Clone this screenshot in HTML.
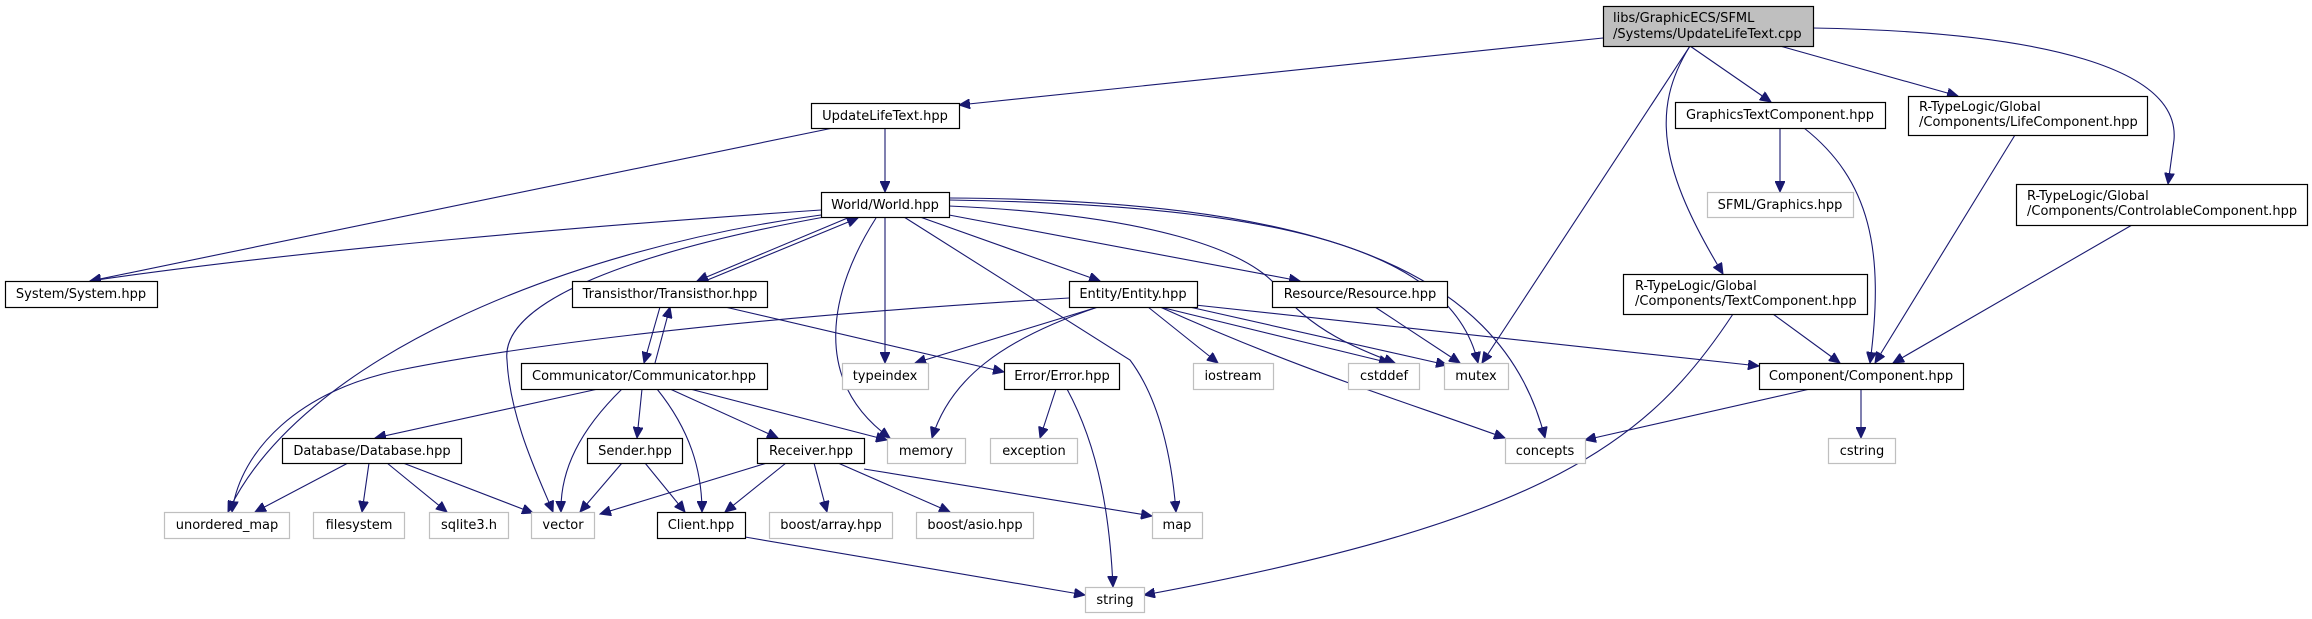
<!DOCTYPE html>
<html><head><meta charset="utf-8"><style>
html,body{margin:0;padding:0;background:#fff;}
svg{display:block;}
text{font-family:"DejaVu Sans","Liberation Sans",sans-serif;font-size:13px;fill:#000;}
.e{fill:none;stroke:#191970;stroke-width:1.1;marker-end:url(#a);}
.n{fill:#fff;stroke:#000;stroke-width:1.2;}
.g{fill:#fff;stroke:#bfbfbf;stroke-width:1.2;}
</style></head><body>
<svg width="2312" height="619" viewBox="0 0 2312 619" xmlns="http://www.w3.org/2000/svg">
<defs><marker id="a" markerUnits="userSpaceOnUse" markerWidth="12" markerHeight="10" refX="11" refY="5" orient="auto"><path d="M0,0 L11,5 L0,10 Z" fill="#191970" stroke="#191970"/></marker></defs>
<g>
<path class="e" d="M1603,38 L959,105"/>
<path class="e" d="M1690,46 L1771,102"/>
<path class="e" d="M1780,46 L1958,96"/>
<path class="e" d="M1813,28 C2050,32 2180,70 2174,140 L2168,184"/>
<path class="e" d="M1690,46 L1482,363"/>
<path class="e" d="M1690,46 C1650,110 1660,170 1723,274"/>
<path class="e" d="M885,128 L885,192"/>
<path class="e" d="M833,128 L90,281"/>
<path class="e" d="M821,210 C600,225 300,250 90,281"/>
<path class="e" d="M850,217 L697,281"/>
<path class="e" d="M705,281 L858,218"/>
<path class="e" d="M821,215 C560,250 300,360 228,512"/>
<path class="e" d="M830,216 C640,250 500,300 507,360 C510,420 540,480 553,512"/>
<path class="e" d="M885,217 L885,363"/>
<path class="e" d="M876,218 C830,290 810,380 890,438"/>
<path class="e" d="M904,217 L1130,360 C1160,400 1172,460 1176,512"/>
<path class="e" d="M920,217 L1100,281"/>
<path class="e" d="M949,215 L1300,281"/>
<path class="e" d="M949,206 C1150,215 1250,250 1280,290 C1310,330 1360,350 1395,363"/>
<path class="e" d="M949,200 C1250,205 1450,240 1478,363"/>
<path class="e" d="M949,198 C1300,200 1500,260 1545,438"/>
<path class="e" d="M660,307 L644,363"/>
<path class="e" d="M655,363 L670,307"/>
<path class="e" d="M725,307 L1004,372"/>
<path class="e" d="M1069,298 C700,320 500,350 400,370 C300,390 240,450 232,512"/>
<path class="e" d="M1098,307 L915,363"/>
<path class="e" d="M1098,307 C1000,340 950,380 932,438"/>
<path class="e" d="M1148,307 L1218,363"/>
<path class="e" d="M1160,307 L1390,363"/>
<path class="e" d="M1185,306 L1447,365"/>
<path class="e" d="M1195,305 L1759,366"/>
<path class="e" d="M1160,307 C1300,370 1400,400 1505,438"/>
<path class="e" d="M1375,307 L1460,363"/>
<path class="e" d="M1056,389 L1040,438"/>
<path class="e" d="M1067,389 C1100,450 1110,520 1113,587"/>
<path class="e" d="M598,389 L375,438"/>
<path class="e" d="M622,389 C580,430 560,470 561,512"/>
<path class="e" d="M642,389 L637,438"/>
<path class="e" d="M657,389 C690,430 702,470 702,512"/>
<path class="e" d="M670,389 L778,438"/>
<path class="e" d="M690,389 L887,440"/>
<path class="e" d="M348,463 L255,512"/>
<path class="e" d="M369,463 L362,512"/>
<path class="e" d="M387,463 L447,512"/>
<path class="e" d="M403,463 L533,513"/>
<path class="e" d="M622,463 L580,512"/>
<path class="e" d="M645,463 L685,512"/>
<path class="e" d="M767,463 L600,514"/>
<path class="e" d="M786,463 L725,512"/>
<path class="e" d="M814,463 L827,512"/>
<path class="e" d="M838,463 L950,512"/>
<path class="e" d="M864,469 L1152,516"/>
<path class="e" d="M745,537 L1085,595"/>
<path class="e" d="M1733,314 C1650,440 1550,520 1144,595"/>
<path class="e" d="M1773,314 L1840,363"/>
<path class="e" d="M1780,128 L1780,192"/>
<path class="e" d="M1804,128 C1870,180 1885,250 1870,363"/>
<path class="e" d="M2015,135 L1875,363"/>
<path class="e" d="M2132,225 L1893,363"/>
<path class="e" d="M1810,389 L1585,440"/>
<path class="e" d="M1861,389 L1861,438"/>
</g>
<g>
<rect x="1603.5" y="6.5" width="210" height="40" fill="#bfbfbf" stroke="#000" stroke-width="1.2"/>
<text x="1613" y="22">libs/GraphicECS/SFML</text><text x="1613" y="38">/Systems/UpdateLifeText.cpp</text>

<rect class="n" x="811.5" y="103.5" width="148" height="25"/><text x="885" y="120" text-anchor="middle">UpdateLifeText.hpp</text>
<rect class="n" x="821.5" y="192.5" width="128" height="25"/><text x="885" y="209" text-anchor="middle">World/World.hpp</text>
<rect class="n" x="5.5" y="281.5" width="152" height="26"/><text x="81" y="298" text-anchor="middle">System/System.hpp</text>
<rect class="n" x="572.5" y="281.5" width="195" height="26"/><text x="670" y="298" text-anchor="middle">Transisthor/Transisthor.hpp</text>
<rect class="n" x="1069.5" y="281.5" width="128" height="26"/><text x="1133" y="298" text-anchor="middle">Entity/Entity.hpp</text>
<rect class="n" x="1272.5" y="281.5" width="175" height="26"/><text x="1360" y="298" text-anchor="middle">Resource/Resource.hpp</text>
<rect class="n" x="1675.5" y="102.5" width="210" height="26"/><text x="1780" y="119" text-anchor="middle">GraphicsTextComponent.hpp</text>
<rect class="g" x="1707.5" y="192.5" width="146" height="25"/><text x="1780" y="209" text-anchor="middle">SFML/Graphics.hpp</text>
<rect class="n" x="1908.5" y="96.5" width="239" height="39"/><text x="1919" y="111">R-TypeLogic/Global</text><text x="1919" y="126">/Components/LifeComponent.hpp</text>
<rect class="n" x="2016.5" y="184.5" width="291" height="41"/><text x="2027" y="200">R-TypeLogic/Global</text><text x="2027" y="215">/Components/ControlableComponent.hpp</text>
<rect class="n" x="1623.5" y="274.5" width="244" height="40"/><text x="1635" y="290">R-TypeLogic/Global</text><text x="1635" y="305">/Components/TextComponent.hpp</text>
<rect class="n" x="521.5" y="363.5" width="246" height="26"/><text x="644" y="380" text-anchor="middle">Communicator/Communicator.hpp</text>
<rect class="g" x="842.5" y="363.5" width="86" height="26"/><text x="885" y="380" text-anchor="middle">typeindex</text>
<rect class="n" x="1004.5" y="363.5" width="115" height="26"/><text x="1062" y="380" text-anchor="middle">Error/Error.hpp</text>
<rect class="g" x="1193.5" y="363.5" width="80" height="26"/><text x="1233" y="380" text-anchor="middle">iostream</text>
<rect class="g" x="1348.5" y="363.5" width="71" height="26"/><text x="1384" y="380" text-anchor="middle">cstddef</text>
<rect class="g" x="1444.5" y="363.5" width="64" height="26"/><text x="1476" y="380" text-anchor="middle">mutex</text>
<rect class="n" x="1759.5" y="363.5" width="204" height="26"/><text x="1861" y="380" text-anchor="middle">Component/Component.hpp</text>
<rect class="n" x="282.5" y="438.5" width="179" height="25"/><text x="372" y="455" text-anchor="middle">Database/Database.hpp</text>
<rect class="n" x="587.5" y="438.5" width="95" height="25"/><text x="635" y="455" text-anchor="middle">Sender.hpp</text>
<rect class="n" x="757.5" y="438.5" width="107" height="25"/><text x="811" y="455" text-anchor="middle">Receiver.hpp</text>
<rect class="g" x="887.5" y="438.5" width="78" height="25"/><text x="926" y="455" text-anchor="middle">memory</text>
<rect class="g" x="990.5" y="438.5" width="87" height="25"/><text x="1034" y="455" text-anchor="middle">exception</text>
<rect class="g" x="1505.5" y="438.5" width="80" height="25"/><text x="1545" y="455" text-anchor="middle">concepts</text>
<rect class="g" x="1828.5" y="438.5" width="67" height="25"/><text x="1862" y="455" text-anchor="middle">cstring</text>
<rect class="g" x="164.5" y="512.5" width="125" height="26"/><text x="227" y="529" text-anchor="middle">unordered_map</text>
<rect class="g" x="313.5" y="512.5" width="91" height="26"/><text x="359" y="529" text-anchor="middle">filesystem</text>
<rect class="g" x="429.5" y="512.5" width="79" height="26"/><text x="469" y="529" text-anchor="middle">sqlite3.h</text>
<rect class="g" x="531.5" y="512.5" width="63" height="26"/><text x="563" y="529" text-anchor="middle">vector</text>
<rect class="n" x="657.5" y="512.5" width="88" height="26"/><text x="701" y="529" text-anchor="middle">Client.hpp</text>
<rect class="g" x="769.5" y="512.5" width="123" height="26"/><text x="831" y="529" text-anchor="middle">boost/array.hpp</text>
<rect class="g" x="916.5" y="512.5" width="117" height="26"/><text x="975" y="529" text-anchor="middle">boost/asio.hpp</text>
<rect class="g" x="1152.5" y="512.5" width="50" height="26"/><text x="1177" y="529" text-anchor="middle">map</text>
<rect class="g" x="1085.5" y="587.5" width="59" height="25"/><text x="1115" y="604" text-anchor="middle">string</text>
</g>
</svg>
</body></html>
